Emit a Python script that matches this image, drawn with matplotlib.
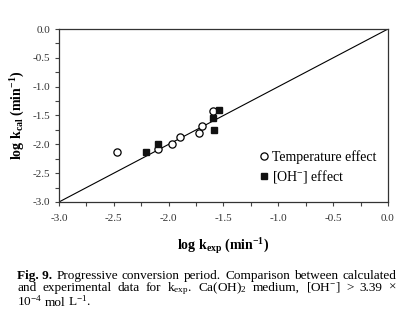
import matplotlib
matplotlib.use("Agg")
import matplotlib.pyplot as plt
from matplotlib.ticker import MultipleLocator, FormatStrFormatter

plt.rcParams['font.family'] = ['Liberation Serif', 'DejaVu Serif']
plt.rcParams['mathtext.fontset'] = 'custom'
plt.rcParams['mathtext.rm'] = 'Liberation Serif'
plt.rcParams['mathtext.it'] = 'Liberation Serif:italic'
plt.rcParams['mathtext.bf'] = 'Liberation Serif:bold'

# Temperature effect (open circles)
temp_x = [-2.47, -2.10, -1.97, -1.90, -1.72, -1.70, -1.60]
temp_y = [-2.13, -2.08, -1.99, -1.87, -1.81, -1.68, -1.42]
# [OH-] effect (filled squares)
oh_x = [-2.21, -2.10, -1.60, -1.54, -1.59]
oh_y = [-2.13, -1.99, -1.55, -1.40, -1.75]
# 1:1 line
line_x = [-3.0, 0.0]
line_y = [-3.0, 0.0]

fig = plt.figure(figsize=(4.12, 3.17), dpi=100)
ax = fig.add_axes([0.1432, 0.3628, 0.7985, 0.5457])
ax.plot(line_x, line_y, color='black', lw=0.8)
ax.plot(temp_x, temp_y, 'o', mfc='white', mec='black', mew=0.9, ms=5.2,
        label='Temperature effect', zorder=3)
ax.plot(oh_x, oh_y, 's', mfc='#111111', mec='#111111', ms=4.5,
        label='[OH$^{-}$] effect', zorder=3)

ax.set_xlim(-3.0, 0.0)
ax.set_ylim(-3.0, 0.0)
ax.xaxis.set_major_locator(MultipleLocator(0.5))
ax.xaxis.set_minor_locator(MultipleLocator(0.25))
ax.yaxis.set_major_locator(MultipleLocator(0.5))
ax.yaxis.set_minor_locator(MultipleLocator(0.25))
ax.xaxis.set_major_formatter(FormatStrFormatter('%.1f'))
ax.yaxis.set_major_formatter(FormatStrFormatter('%.1f'))
ax.tick_params(which='both', direction='out', length=3, width=0.8, color='#444444',
               labelsize=8, labelcolor='#333333')
ax.tick_params(axis='x', pad=6)
for s in ax.spines.values():
    s.set_linewidth(0.9)
    s.set_color('#333333')

ax.set_xlabel('log k$_{\\mathbf{exp}}$ (min$^{\\mathbf{-1}}$)', fontsize=10,
              fontweight='bold', labelpad=9)
ax.set_ylabel('log k$_{\\mathbf{cal}}$ (min$^{\\mathbf{-1}}$)', fontsize=10,
              fontweight='bold', labelpad=4)

ax.legend(loc='upper left', bbox_to_anchor=(0.585, 0.33), frameon=False,
          fontsize=10, handletextpad=0.05, handlelength=1.0,
          labelspacing=0.3, borderaxespad=0)

# Caption with justified lines
fig.canvas.draw()
renderer = fig.canvas.get_renderer()
x0, x1 = 17, 396
W, H = 412, 317

def justify(words, y, props_list, justify_line=True, size=9.5):
    texts = []
    for w, p in zip(words, props_list):
        t = fig.text(0, 1 - y / H, w, fontsize=size, va='baseline', ha='left',
                     transform=fig.transFigure, **p)
        texts.append(t)
    widths = [t.get_window_extent(renderer).width for t in texts]
    total = sum(widths)
    n = len(words)
    if justify_line and n > 1:
        gap = max((x1 - x0 - total) / (n - 1), 2.0)
    else:
        gap = 2.8
    x = x0
    for t, w in zip(texts, widths):
        t.set_x(x / W)
        x += w + gap

line1 = ['Fig. 9.', 'Progressive', 'conversion', 'period.', 'Comparison', 'between', 'calculated']
p1 = [dict(fontweight='bold')] + [dict()] * (len(line1) - 1)
justify(line1, 279.0, p1)
line2 = ['and', 'experimental', 'data', 'for', 'k$_{\\mathrm{exp}}$.', 'Ca(OH)$_{2}$', 'medium,',
         '[OH$^{-}$]', '>', '3.39', '\u00d7']
justify(line2, 291.0, [dict()] * len(line2))
line3 = ['10$^{-4}$', 'mol', 'L$^{-1}$.']
justify(line3, 306.0, [dict()] * len(line3), justify_line=False)

fig.savefig('out.png', dpi=100)
